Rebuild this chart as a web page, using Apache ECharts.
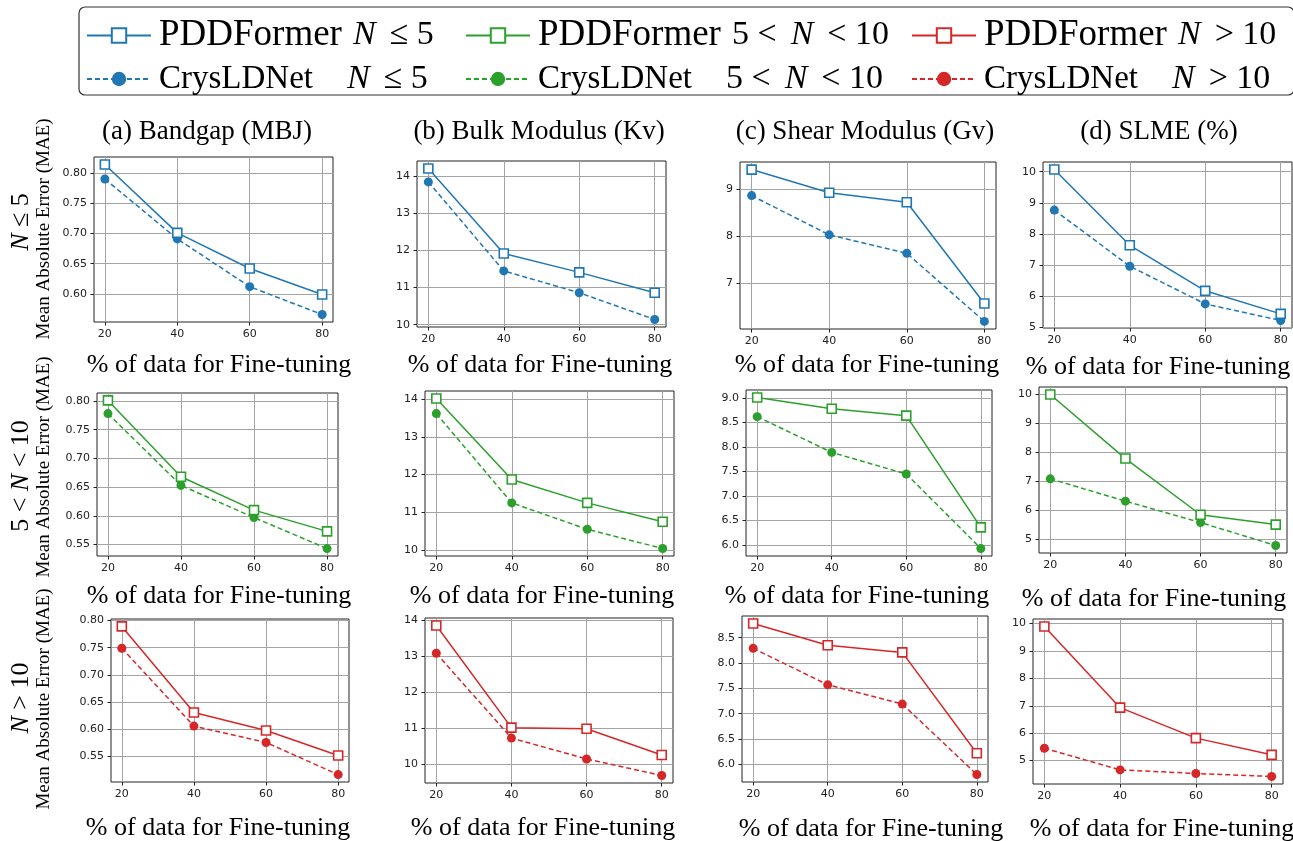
<!DOCTYPE html>
<html>
<head>
<meta charset="utf-8">
<script src="https://cdn.jsdelivr.net/npm/echarts@6/dist/echarts.min.js"></script>
<style>
  html, body { margin: 0; background: #fff; }
  #chart { width: 1293px; height: 841px; }
</style>
</head>
<body>
<div id="chart"></div>
<script>
// x values: % of data for fine-tuning
const pct = [20, 40, 60, 80]

// row 1: N <= 5
const bandgapPdd1 = [0.814, 0.701, 0.642, 0.599]
const bandgapCrys1 = [0.790, 0.691, 0.612, 0.566]
const bulkPdd1 = [14.21, 11.92, 11.41, 10.86]
const bulkCrys1 = [13.85, 11.45, 10.86, 10.14]
const shearPdd1 = [9.41, 8.92, 8.72, 6.58]
const shearCrys1 = [8.86, 8.03, 7.64, 6.20]
const slmePdd1 = [10.07, 7.64, 6.18, 5.44]
const slmeCrys1 = [8.77, 6.97, 5.76, 5.23]

// row 2: 5 < N < 10
const bandgapPdd2 = [0.801, 0.668, 0.610, 0.573]
const bandgapCrys2 = [0.778, 0.653, 0.597, 0.543]
const bulkPdd2 = [14.02, 11.87, 11.25, 10.75]
const bulkCrys2 = [13.62, 11.25, 10.55, 10.04]
const shearPdd2 = [9.01, 8.78, 8.64, 6.36]
const shearCrys2 = [8.62, 7.89, 7.45, 5.93]
const slmePdd2 = [10.0, 7.79, 5.85, 5.51]
const slmeCrys2 = [7.09, 6.32, 5.58, 4.79]

// row 3: N > 10
const bandgapPdd3 = [0.789, 0.631, 0.598, 0.552]
const bandgapCrys3 = [0.749, 0.606, 0.576, 0.517]
const bulkPdd3 = [13.85, 11.01, 10.98, 10.25]
const bulkCrys3 = [13.08, 10.72, 10.14, 9.68]
const shearPdd3 = [8.78, 8.35, 8.21, 6.22]
const shearCrys3 = [8.29, 7.57, 7.19, 5.80]
const slmePdd3 = [9.89, 6.93, 5.82, 5.21]
const slmeCrys3 = [5.45, 4.66, 4.53, 4.42]

// tick labels
const xTicks = [20, 40, 60, 80]
const ticksBandgap1 = [0.60, 0.65, 0.70, 0.75, 0.80]
const ticksBandgap = [0.55, 0.60, 0.65, 0.70, 0.75, 0.80]
const ticksBulk = [10, 11, 12, 13, 14]
const ticksShear1 = [7, 8, 9]
const ticksShear2 = [6.0, 6.5, 7.0, 7.5, 8.0, 8.5, 9.0]
const ticksShear3 = [6.0, 6.5, 7.0, 7.5, 8.0, 8.5]
const ticksSlme = [5, 6, 7, 8, 9, 10]

const titles = ['(a) Bandgap (MBJ)', '(b) Bulk Modulus (Kv)', '(c) Shear Modulus (Gv)', '(d) SLME (%)']
const pddNames = ['PDDFormer N≤5', 'PDDFormer 5<N<10', 'PDDFormer N>10']
const crysNames = ['CrysLDNet N≤5', 'CrysLDNet 5<N<10', 'CrysLDNet N>10']
const colors = ['#1f77b4', '#2ca02c', '#d62728']

const panels = [
  { row: 0, pdd: bandgapPdd1, crys: bandgapCrys1, ticks: ticksBandgap1, dec: 2, rect: [94, 157, 239, 165] },
  { row: 0, pdd: bulkPdd1, crys: bulkCrys1, ticks: ticksBulk, dec: 0, rect: [417, 161, 249, 166] },
  { row: 0, pdd: shearPdd1, crys: shearCrys1, ticks: ticksShear1, dec: 0, rect: [740, 162, 256, 167] },
  { row: 0, pdd: slmePdd1, crys: slmeCrys1, ticks: ticksSlme, dec: 0, rect: [1043, 162, 249, 166] },
  { row: 1, pdd: bandgapPdd2, crys: bandgapCrys2, ticks: ticksBandgap, dec: 2, rect: [97, 393, 241, 163] },
  { row: 1, pdd: bulkPdd2, crys: bulkCrys2, ticks: ticksBulk, dec: 0, rect: [425, 391, 249, 165] },
  { row: 1, pdd: shearPdd2, crys: shearCrys2, ticks: ticksShear2, dec: 1, rect: [746, 390, 246, 166] },
  { row: 1, pdd: slmePdd2, crys: slmeCrys2, ticks: ticksSlme, dec: 0, rect: [1039, 387, 248, 166] },
  { row: 2, pdd: bandgapPdd3, crys: bandgapCrys3, ticks: ticksBandgap, dec: 2, rect: [111, 619, 238, 163] },
  { row: 2, pdd: bulkPdd3, crys: bulkCrys3, ticks: ticksBulk, dec: 0, rect: [425, 618, 248, 165] },
  { row: 2, pdd: shearPdd3, crys: shearCrys3, ticks: ticksShear3, dec: 1, rect: [742, 616, 246, 166] },
  { row: 2, pdd: slmePdd3, crys: slmeCrys3, ticks: ticksSlme, dec: 0, rect: [1033, 619, 250, 165] },
]

const serif = '"Liberation Serif", "Times New Roman", serif'
const tickFont = { fontFamily: 'DejaVu Sans', fontSize: 11, color: '#222' }

const grids = [], xAxes = [], yAxes = [], series = []
panels.forEach((p, i) => {
  const c = colors[p.row]
  grids.push({ left: p.rect[0], top: p.rect[1], width: p.rect[2], height: p.rect[3],
    show: true, borderColor: '#222', borderWidth: 1 })
  xAxes.push({
    type: 'value', gridIndex: i, min: 17, max: 83,
    axisLine: { show: false },
    axisTick: { show: true, customValues: xTicks, length: 3.5, lineStyle: { color: '#222' } },
    axisLabel: { customValues: xTicks, margin: 7, ...tickFont },
    splitLine: { show: true, lineStyle: { color: '#a4a4a4', width: 1 } },
  })
  yAxes.push({
    type: 'value', gridIndex: i,
    min: v => v.min - (v.max - v.min) * 0.05,
    max: v => v.max + (v.max - v.min) * 0.05,
    axisLine: { show: false },
    axisTick: { show: true, customValues: p.ticks, length: 3.5, lineStyle: { color: '#222' } },
    axisLabel: { customValues: p.ticks, margin: 7, formatter: v => v.toFixed(p.dec), ...tickFont },
    splitLine: { show: true, lineStyle: { color: '#a4a4a4', width: 1 } },
  })
  series.push({
    type: 'line', name: pddNames[p.row], xAxisIndex: i, yAxisIndex: i,
    data: pct.map((x, k) => [x, p.pdd[k]]),
    symbol: 'rect', symbolSize: 9,
    itemStyle: { color: '#fff', borderColor: c, borderWidth: 1.6 },
    lineStyle: { color: c, width: 1.5 },
    emphasis: { disabled: true }, z: 3,
  })
  series.push({
    type: 'line', name: crysNames[p.row], xAxisIndex: i, yAxisIndex: i,
    data: pct.map((x, k) => [x, p.crys[k]]),
    symbol: 'circle', symbolSize: 9,
    itemStyle: { color: c },
    lineStyle: { color: c, width: 1.5, type: [5, 3] },
    emphasis: { disabled: true }, z: 2,
  })
})

// legend labels: name part + math part
const legendText = {
  'PDDFormer N≤5': '{t|PDDFormer}{i|N}{m|≤ 5}',
  'PDDFormer 5<N<10': '{t|PDDFormer}{m|5 <}{j|N}{m|< 10}',
  'PDDFormer N>10': '{t|PDDFormer}{i|N}{m|> 10}',
  'CrysLDNet N≤5': '{c|CrysLDNet}{i|N}{m|≤ 5}',
  'CrysLDNet 5<N<10': '{c|CrysLDNet}{m|5 <}{j|N}{m|< 10}',
  'CrysLDNet N>10': '{c|CrysLDNet}{i|N}{m|> 10}',
}
const legendRich = {
  t: { fontFamily: serif, fontSize: 37, width: 194, lineHeight: 30, padding: [0, 0, 0, 3] },
  c: { fontFamily: serif, fontSize: 33, width: 188, lineHeight: 30, padding: [0, 0, 0, 3] },
  m: { fontFamily: serif, fontSize: 34, lineHeight: 30 },
  i: { fontFamily: serif, fontSize: 34, fontStyle: 'italic', lineHeight: 30, padding: [0, 14, 0, 0] },
  j: { fontFamily: serif, fontSize: 34, fontStyle: 'italic', lineHeight: 30, padding: [0, 14, 0, 14] },
}
const legendCols = [86, 465, 911]
const legends = legendCols.map((x, k) => ({
  orient: 'vertical', left: x, top: 17, padding: 0, itemGap: 8,
  itemWidth: 64, itemHeight: 18, selectedMode: false,
  data: [pddNames[k], crysNames[k]],
  formatter: n => legendText[n],
  textStyle: { color: '#000', rich: legendRich },
}))

const graphic = [
  { type: 'rect', shape: { x: 79, y: 7, width: 1215, height: 88, r: 6 },
    style: { fill: 'none', stroke: '#333', lineWidth: 1.2 } },
]
const titleX = [207, 539, 865, 1159]
titles.forEach((t, k) => graphic.push({ type: 'text', x: titleX[k], y: 132,
  style: { text: t, font: '27px ' + serif, align: 'center', verticalAlign: 'middle', fill: '#000' } }))
const xLabelPos = [[219, 365], [540, 365], [867, 365], [1158, 367],
  [219, 596], [542, 596], [857, 596], [1154, 599],
  [218, 828], [543, 828], [871, 829], [1162, 829]]
xLabelPos.forEach(([x, y]) => graphic.push({ type: 'text', x, y,
  style: { text: '% of data for Fine-tuning', font: '26px ' + serif, align: 'center', verticalAlign: 'middle', fill: '#000' } }))
const rowLabels = ['{i|N}{m| ≤ 5}', '{m|5 < }{i|N}{m| < 10}', '{i|N}{m| > 10}']
const rowLabelY = [222, 476, 698]
const maeY = [229, 467, 699]
rowLabels.forEach((t, k) => {
  graphic.push({ type: 'text', x: 21, y: rowLabelY[k], rotation: Math.PI / 2,
    style: { text: t, align: 'center', verticalAlign: 'middle', fill: '#000',
      rich: { i: { fontFamily: serif, fontSize: 26, fontStyle: 'italic' }, m: { fontFamily: serif, fontSize: 26 } } } })
  graphic.push({ type: 'text', x: 44, y: maeY[k], rotation: Math.PI / 2,
    style: { text: 'Mean Absolute Error (MAE)', font: '19px ' + serif, align: 'center', verticalAlign: 'middle', fill: '#000' } })
})

const chart = echarts.init(document.getElementById('chart'))
chart.setOption({
  animation: false,
  backgroundColor: '#fff',
  legend: legends,
  grid: grids,
  xAxis: xAxes,
  yAxis: yAxes,
  series,
  graphic,
})
</script>
</body>
</html>
